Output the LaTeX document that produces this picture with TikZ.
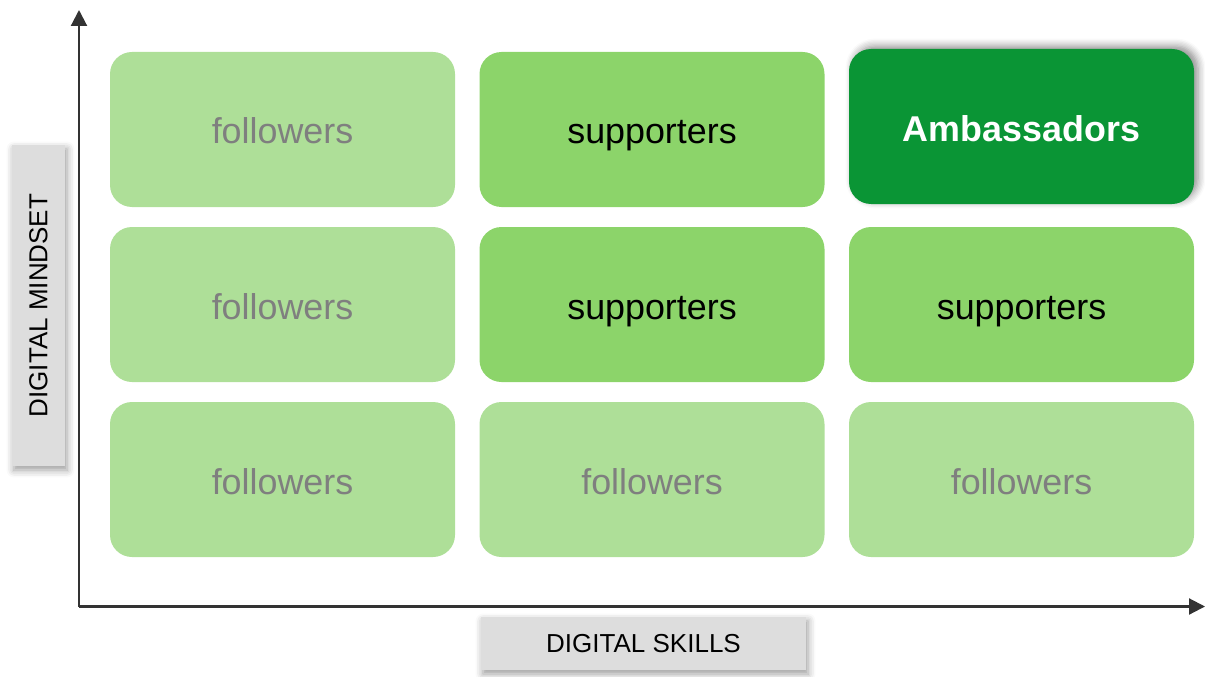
\documentclass[tikz,border=0pt]{standalone}
\usepackage{fontspec}
\setmainfont{Liberation Sans}
\usetikzlibrary{arrows.meta, positioning, shadows.blur}

\definecolor{lightgreen}{HTML}{AEDF98}
\definecolor{midgreen}{HTML}{8CD46A}
\definecolor{darkgreen}{HTML}{0A9535}
\definecolor{textgray}{HTML}{7F7F7F}
\definecolor{labelgray}{HTML}{DDDDDD}
\definecolor{axisgray}{HTML}{333333}

\begin{document}
\begin{tikzpicture}[
						x=1mm, y=1mm,
						node distance={2.0mm and 2.45mm},
						cell/.style = {rectangle, rounded corners=2.2mm, minimum width=34.5mm, minimum height=15.5mm, inner sep=0pt, outer sep=0pt, text height=3.2mm, text depth=0.3mm, font=\fontsize{10.2}{12}\selectfont},
						follow/.style = {cell, fill=lightgreen, text=textgray},
						support/.style = {cell, fill=midgreen, text=black},
						ambass/.style = {cell, fill=darkgreen, text=white, font=\fontsize{10.2}{12}\selectfont\bfseries, blur shadow={shadow xshift=0.4mm, shadow yshift=0.3mm, shadow blur steps=6, shadow opacity=45}},
						axislabel/.style = {rectangle, fill=labelgray, minimum width=32.5mm, minimum height=5.3mm, inner sep=0pt, font=\fontsize{7.4}{9}\selectfont, blur shadow={shadow xshift=0.2mm, shadow yshift=-0.4mm, shadow blur steps=5}},
						axis/.style = {draw=axisgray, line width=0.6pt, -{Triangle[length=1.6mm, width=1.6mm]}},
					]

\useasboundingbox (0,0) rectangle (120.5,-67.6);

% grid of groups
\node[follow] (11) at (28.25,-12.95) {followers};
\node[support] (12) [right=of 11] {supporters};
\node[ambass, yshift=0.3mm] (13) [right=of 12] {Ambassadors};
\node[follow] (21) [below=of 11] {followers};
\node[support] (22) [right=of 21] {supporters};
\node[support] (23) [right=of 22] {supporters};
\node[follow] (31) [below=of 21] {followers};
\node[follow] (32) [right=of 31] {followers};
\node[follow] (33) [right=of 32] {followers};

% axes
\coordinate (origin) at (7.9,-60.65);
\coordinate (ytip) at (7.9,-1.0);
\coordinate (xtip) at (120.5,-60.65);
\draw[axis] (origin) -- (ytip);
\draw[axis] (origin) -- (xtip);

\node[axislabel] (skills) at (64.35,-64.35) {DIGITAL SKILLS};
\node[axislabel, minimum width=32.1mm, rotate=90] (mindset) at (3.85,-30.55) {DIGITAL MINDSET};

\end{tikzpicture}
\end{document}
